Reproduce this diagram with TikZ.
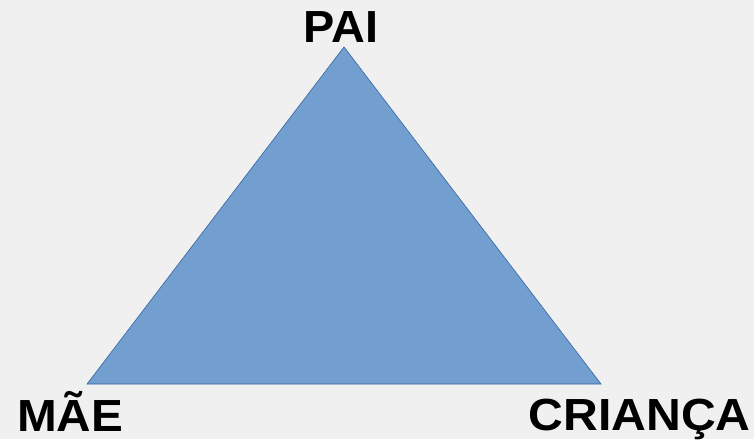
\documentclass[tikz,border=0pt]{standalone}
\usepackage{fontspec}
\setmainfont{Liberation Sans}
\definecolor{bgc}{HTML}{F0F0F0}
\definecolor{trifill}{HTML}{729FCF}
\definecolor{triline}{HTML}{3465A4}
\begin{document}
\begin{tikzpicture}[x=1pt,y=1pt,
  lbl/.style={inner sep=0pt,font=\fontsize{45}{50}\selectfont\bfseries,text=black}]
\fill[bgc] (0,0) rectangle (754,439);
\useasboundingbox (0,0) rectangle (754,439);
\coordinate (top) at (344,392);
\coordinate (bl) at (87,55);
\coordinate (br) at (601,55);
\filldraw[fill=trifill,draw=triline,line width=0.6pt] (top) -- (bl) -- (br) -- cycle;
\node[lbl,anchor=base] (pai) at (341,396) {\scalebox{1.04}[1]{PAI}};
\node[lbl,anchor=base west] (mae) at (17,8) {\scalebox{1.06}[1]{MÃE}};
\node[lbl,anchor=base west] (crianca) at (528.5,9) {\scalebox{1.07}[1]{CRIANÇA}};
\end{tikzpicture}
\end{document}
